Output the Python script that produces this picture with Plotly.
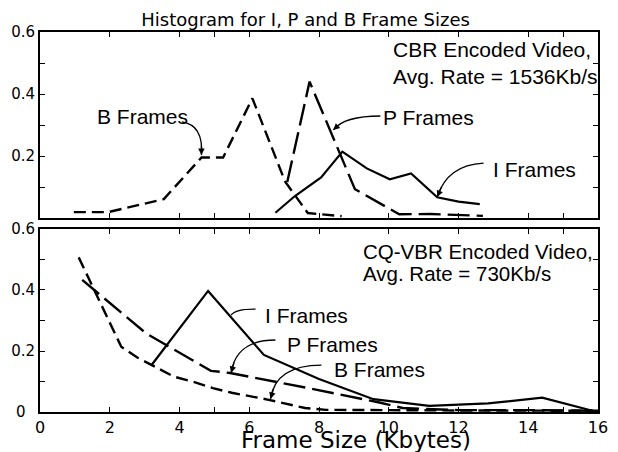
import plotly.graph_objects as go

# ---------------- data ----------------
# Top panel: CBR encoded video
cbr_I_x = [6.75, 7.31, 8.06, 8.67, 9.37, 10.03, 10.64, 11.39, 12.0, 12.61]
cbr_I_y = [0.017, 0.071, 0.131, 0.214, 0.16, 0.125, 0.144, 0.067, 0.053, 0.045]
cbr_P_x = [7.09, 7.73, 9.03, 10.3, 11.2, 12.0, 12.7]
cbr_P_y = [0.116, 0.44, 0.093, 0.012, 0.013, 0.010, 0.007]
cbr_B_x = [0.97, 1.96, 3.55, 4.63, 5.25, 6.09, 7.03, 7.68, 8.65]
cbr_B_y = [0.019, 0.019, 0.061, 0.195, 0.195, 0.386, 0.117, 0.016, 0.006]

# Bottom panel: CQ-VBR encoded video
vbr_I_x = [3.2, 4.82, 6.42, 8.0, 9.56, 11.16, 12.85, 14.4, 15.95]
vbr_I_y = [0.154, 0.397, 0.187, 0.108, 0.042, 0.020, 0.028, 0.047, 0.001]
vbr_P_x = [1.21, 3.04, 4.9, 5.45, 7.8, 9.7, 10.4, 12.0, 14.0, 16.0]
vbr_P_y = [0.433, 0.258, 0.135, 0.128, 0.076, 0.032, 0.013, 0.006, 0.006, 0.004]
vbr_B_x = [1.11, 2.33, 2.8, 3.27, 3.84, 4.4, 4.96, 5.5, 6.56, 7.6, 8.2, 12.0, 16.0]
vbr_B_y = [0.507, 0.214, 0.178, 0.149, 0.116, 0.099, 0.078, 0.063, 0.040, 0.013, 0.007, 0.005, 0.004]

x_tick_vals = [0, 2, 4, 5, 6, 8, 10, 12, 14, 15, 16]
x_tick_text = ["0", "2", "4", "", "6", "8", "10", "12", "14", "", "16"]
y_tick_vals = [0, 0.1, 0.2, 0.3, 0.4, 0.5, 0.6]
y_tick_text_top = ["", "", "0.2", "", "0.4", "", "0.6"]
y_tick_text_bot = ["0\u00a0\u00a0", "", "0.2", "", "0.4", "", "0.6"]

title_text = "Histogram for I, P and B Frame Sizes"
xlabel_text = "Frame Size (Kbytes)"

# label annotations: (text, x, y, panel, font size)
labels = [
    ("B Frames", 1.59, 0.326, 1, 21),
    ("P Frames", 9.79, 0.323, 1, 21),
    ("I Frames", 12.94, 0.158, 1, 21),
    ("CBR Encoded Video,", 10.07, 0.542, 1, 21),
    ("Avg. Rate = 1536Kb/s", 10.07, 0.455, 1, 21),
    ("I Frames", 6.38, 0.318, 2, 21),
    ("P Frames", 7.03, 0.220, 2, 21),
    ("B Frames", 8.38, 0.138, 2, 21),
    ("CQ-VBR Encoded Video,", 9.2, 0.527, 2, 20.5),
    ("Avg. Rate = 730Kb/s", 9.2, 0.455, 2, 20.5),
]
# curved arrows: start, control, end, panel
arrows = [
    ((4.07, 0.310), (4.69, 0.300), (4.63, 0.203), 1),
    ((9.76, 0.329), (8.72, 0.329), (8.41, 0.284), 1),
    ((12.72, 0.177), (11.68, 0.171), (11.39, 0.068), 1),
    ((6.18, 0.337), (5.62, 0.338), (5.48, 0.318), 2),
    ((6.75, 0.236), (5.62, 0.236), (5.48, 0.128), 2),
    ((8.07, 0.154), (6.75, 0.154), (6.61, 0.043), 2),
]

# ---------------- figure ----------------
fig = go.Figure()
black = "black"
I_line = dict(color=black, width=2.2)
P_line = dict(color=black, width=2.4, dash="22px,7px")
B_line = dict(color=black, width=2.4, dash="12px,6px")

fig.add_trace(go.Scatter(x=cbr_B_x, y=cbr_B_y, mode="lines", line=B_line, xaxis="x", yaxis="y"))
fig.add_trace(go.Scatter(x=cbr_P_x, y=cbr_P_y, mode="lines", line=P_line, xaxis="x", yaxis="y"))
fig.add_trace(go.Scatter(x=cbr_I_x, y=cbr_I_y, mode="lines", line=I_line, xaxis="x", yaxis="y"))
fig.add_trace(go.Scatter(x=vbr_B_x, y=vbr_B_y, mode="lines", line=B_line, xaxis="x2", yaxis="y2"))
fig.add_trace(go.Scatter(x=vbr_P_x, y=vbr_P_y, mode="lines", line=P_line, xaxis="x2", yaxis="y2"))
fig.add_trace(go.Scatter(x=vbr_I_x, y=vbr_I_y, mode="lines", line=I_line, xaxis="x2", yaxis="y2"))

tick_font = dict(family="DejaVu Sans", size=15, color=black)
ax_common = dict(range=[0, 16], showline=True, linecolor=black, linewidth=2, mirror="ticks",
                 ticks="inside", ticklen=5, tickwidth=1.3, tickcolor=black,
                 tickvals=x_tick_vals, ticktext=x_tick_text, showgrid=False, zeroline=False,
                 tickfont=dict(family="DejaVu Sans", size=16, color=black))
ay_common = dict(range=[0, 0.6], showline=True, linecolor=black, linewidth=2, mirror="ticks",
                 ticks="inside", ticklen=5, tickwidth=1.3, tickcolor=black,
                 tickvals=y_tick_vals, showgrid=False, zeroline=False, tickfont=tick_font)

fig.update_layout(
    width=618, height=452,
    margin=dict(l=40, r=10, t=32, b=40),
    paper_bgcolor="white", plot_bgcolor="white",
    showlegend=False,
    title=dict(text=title_text, x=0.476, xref="paper", xanchor="center", y=0.957, yanchor="middle",
               font=dict(family="DejaVu Sans", size=18, color=black)),
    xaxis=dict(ax_common, anchor="y", showticklabels=False),
    yaxis=dict(ay_common, anchor="x", domain=[0.5105, 1.0], ticktext=y_tick_text_top),
    xaxis2=dict(ax_common, anchor="y2"),
    yaxis2=dict(ay_common, anchor="x2", domain=[0.0, 0.4816], ticktext=y_tick_text_bot),
)

for text, x, y, p, fs in labels:
    fig.add_annotation(text=text, x=x, y=y, xref="x" if p == 1 else "x2", yref="y" if p == 1 else "y2",
                       xanchor="left", yanchor="middle", showarrow=False,
                       font=dict(family="Liberation Sans, Arial", size=fs, color=black))

for (x0, y0), (cx, cy), (x1, y1), p in arrows:
    xr = "x" if p == 1 else "x2"
    yr = "y" if p == 1 else "y2"
    fig.add_shape(type="path", path=f"M {x0},{y0} Q {cx},{cy} {x1},{y1}", xref=xr, yref=yr,
                  line=dict(color=black, width=1.3))
    t = 0.8
    bx = (1 - t) ** 2 * x0 + 2 * (1 - t) * t * cx + t ** 2 * x1
    by = (1 - t) ** 2 * y0 + 2 * (1 - t) * t * cy + t ** 2 * y1
    fig.add_annotation(text="", x=x1, y=y1, ax=bx, ay=by, xref=xr, yref=yr, axref=xr, ayref=yr,
                       showarrow=True, arrowhead=2, arrowsize=1, arrowwidth=1.3, arrowcolor=black,
                       standoff=0, startstandoff=0)

fig.add_annotation(text=xlabel_text, x=0.567, y=-0.073, xref="paper", yref="paper",
                   xanchor="center", yanchor="middle", showarrow=False,
                   font=dict(family="DejaVu Sans", size=23, color=black))

fig.write_html("out.html")
